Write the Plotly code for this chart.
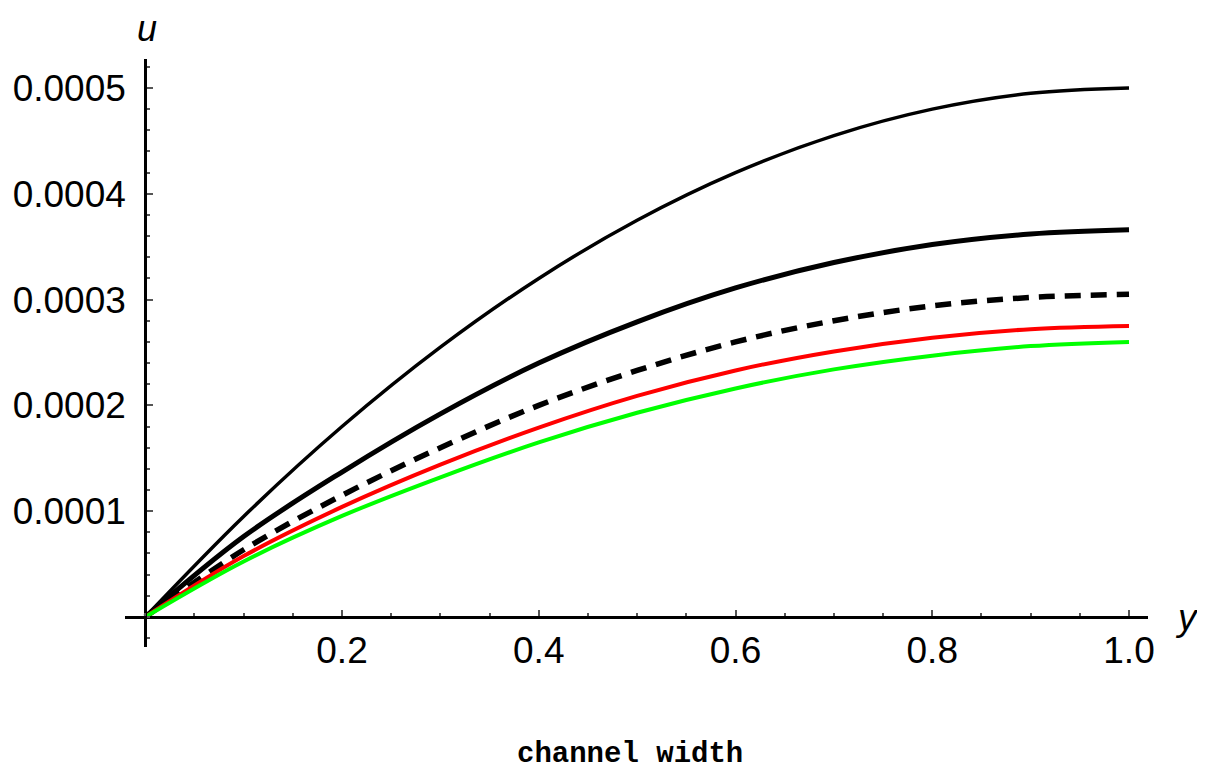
import plotly.graph_objects as go

# Data
y_pos = [0.0, 0.1, 0.2, 0.3, 0.4, 0.5, 0.6, 0.7, 0.8, 0.9, 1.0]
u_top = [0.0, 0.000095, 0.000180, 0.000255, 0.000320, 0.000375, 0.000420, 0.000455, 0.000480, 0.000495, 0.000500]
u_thick = [0.0, 0.000076, 0.000137, 0.000192, 0.000240, 0.000279, 0.000311, 0.000335, 0.000352, 0.000362, 0.000366]
u_dashed = [0.0, 0.0000635, 0.000115, 0.000160, 0.000200, 0.000233, 0.000260, 0.000280, 0.000294, 0.000302, 0.000305]
u_red = [0.0, 0.0000575, 0.000104, 0.000144, 0.000179, 0.000209, 0.000233, 0.000251, 0.000264, 0.000272, 0.000275]
u_green = [0.0, 0.0000525, 0.0000955, 0.000132, 0.000165, 0.000193, 0.000216, 0.000234, 0.000247, 0.000256, 0.000260]

x_ticks = [0.2, 0.4, 0.6, 0.8, 1.0]
x_tick_text = ["0.2", "0.4", "0.6", "0.8", "1.0"]
y_ticks = [0.0001, 0.0002, 0.0003, 0.0004, 0.0005]
y_tick_text = ["0.0001", "0.0002", "0.0003", "0.0004", "0.0005"]

x_range = [-0.0206, 1.0193]
y_range = [-0.0000284, 0.0005274]

series = [
    (u_top, dict(color="black", width=3.5)),
    (u_thick, dict(color="black", width=5)),
    (u_dashed, dict(color="black", width=5.5, dash="16px,10px")),
    (u_red, dict(color="#ff0000", width=4)),
    (u_green, dict(color="#00ff00", width=4)),
]

fig = go.Figure()
for vals, ln in series:
    fig.add_trace(go.Scatter(x=y_pos, y=vals, mode="lines", line=dict(shape="spline", **ln),
                             showlegend=False, hoverinfo="skip"))

# page body adds an 8px offset; figure is sized to compensate
W, H = 1197, 764
L, T, R = 117, 51, 57
PW = W - L - R
PH = 588
B = H - T - PH

tick_font = dict(family="Liberation Sans, Arial, sans-serif", size=37, color="black")
x_zero_frac = (0 - y_range[0]) / (y_range[1] - y_range[0])
y_zero_frac = (0 - x_range[0]) / (x_range[1] - x_range[0])


def px(xp):
    return (xp - 8 - L) / PW


def py(yp):
    return (H - (yp - 8) - B) / PH


fig.update_layout(
    width=W, height=H,
    margin=dict(l=L, r=R, t=T, b=B, autoexpand=False),
    paper_bgcolor="white", plot_bgcolor="white",
    xaxis=dict(range=x_range, anchor="free", position=x_zero_frac, showgrid=False, zeroline=False,
               automargin=False,
               showline=True, linecolor="black", linewidth=3,
               tickmode="array", tickvals=x_ticks, ticktext=x_tick_text,
               ticks="inside", ticklen=6, tickwidth=2, tickcolor="#555555",
               tickfont=tick_font, ticklabelstandoff=0,
               minor=dict(ticks="inside", dtick=0.05, tick0=0, ticklen=3, tickwidth=2, tickcolor="#555555")),
    yaxis=dict(range=y_range, anchor="free", position=y_zero_frac, showgrid=False, zeroline=False,
               automargin=False,
               showline=True, linecolor="black", linewidth=3,
               tickmode="array", tickvals=y_ticks, ticktext=y_tick_text,
               ticks="inside", ticklen=6, tickwidth=2, tickcolor="#555555",
               tickfont=tick_font, ticklabelstandoff=11,
               minor=dict(ticks="inside", dtick=0.00002, tick0=0, ticklen=3, tickwidth=2, tickcolor="#555555")),
    annotations=[
        dict(text="<i>u</i>", x=px(147), y=py(28), xref="paper", yref="paper", showarrow=False,
             xanchor="center", yanchor="middle",
             font=dict(family="Liberation Sans, Arial, sans-serif", size=36, color="black")),
        dict(text="<i>y</i>", x=px(1187), y=py(617), xref="paper", yref="paper", showarrow=False,
             xanchor="center", yanchor="middle",
             font=dict(family="Liberation Sans, Arial, sans-serif", size=37, color="black")),
        dict(text="<b>channel width</b>", x=px(630), y=py(754), xref="paper", yref="paper", showarrow=False,
             xanchor="center", yanchor="middle",
             font=dict(family="Courier New, Liberation Mono, monospace", size=29, color="black")),
    ],
)

fig.write_html("out.html")
